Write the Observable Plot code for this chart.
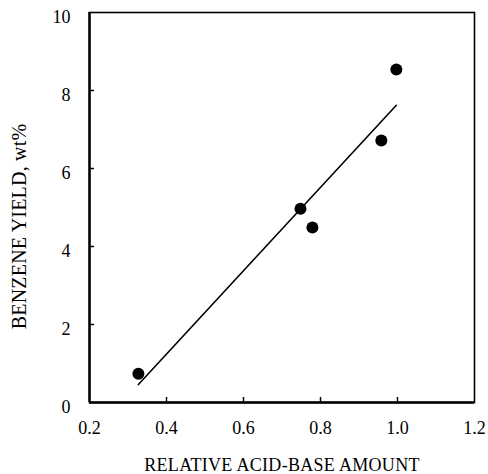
<!DOCTYPE html>
<html>
<head>
<meta charset="utf-8">
<script src="https://cdn.jsdelivr.net/npm/d3@7"></script>
<script src="https://cdn.jsdelivr.net/npm/@observablehq/plot@0.6"></script>
<style>
  html, body { margin: 0; padding: 0; background: #fff; }
</style>
</head>
<body>
<div id="chart"></div>
<script>
// Measured points
const acidBase = [0.327, 0.748, 0.779, 0.958, 0.997];
const benzeneYield = [0.74, 4.97, 4.49, 6.72, 8.54];
// Fitted line endpoints (as drawn)
const fitX = [0.327, 0.997];
const fitY = [0.46, 7.62];
const xTicks = [0.2, 0.4, 0.6, 0.8, 1.0, 1.2];
const yTicks = [0, 2, 4, 6, 8, 10];
const xTitle = "RELATIVE ACID-BASE AMOUNT";
const yTitle = "BENZENE YIELD, wt%";

const points = acidBase.map((x, i) => ({x, y: benzeneYield[i]}));
const fit = fitX.map((x, i) => ({x, y: fitY[i]}));

const font = "'Liberation Serif', 'Times New Roman', serif";

const chart = Plot.plot({
  width: 488,
  height: 474,
  marginLeft: 89,
  marginRight: 14,
  marginTop: 12,
  marginBottom: 72,
  style: {fontFamily: font, fontSize: "18px", color: "#000", background: "#fff"},
  x: {domain: [0.2, 1.2]},
  y: {domain: [0, 10]},
  marks: [
    Plot.axisX({ticks: xTicks, tickSize: 0, tickPadding: 19, tickFormat: d3.format(".1f"), label: null, fontSize: 18}),
    Plot.axisY({ticks: yTicks, tickSize: 0, tickPadding: 19, dy: 5, tickFormat: d3.format("d"), label: null, fontSize: 18}),
    Plot.axisX({ticks: xTicks.slice(1, -1), tickSize: -5, text: null, label: null, strokeWidth: 1.5}),
    Plot.axisY({ticks: yTicks.slice(1, -1), tickSize: -5, text: null, label: null, strokeWidth: 1.5}),
    Plot.frame({stroke: "#000", strokeWidth: 1.6}),
    Plot.ruleX([0.2], {stroke: "#000", strokeWidth: 2.4}),
    Plot.ruleY([0], {stroke: "#000", strokeWidth: 2.4}),
    Plot.line(fit, {x: "x", y: "y", stroke: "#000", strokeWidth: 1.6}),
    Plot.dot(points, {x: "x", y: "y", r: 6, fill: "#000", stroke: null}),
    Plot.text([xTitle], {frameAnchor: "bottom", textAnchor: "middle", dx: 0, dy: 68, lineAnchor: "bottom", fontSize: 18, fill: "#000"}),
    Plot.text([yTitle], {frameAnchor: "left", textAnchor: "middle", dx: -70, dy: 19, rotate: -90, fontSize: 20, fill: "#000"})
  ]
});

// Slightly widen the titles' letter spacing to match the reference's wide type
d3.select(chart).selectAll("text").each(function () {
  const t = this.textContent;
  if (t === xTitle) d3.select(this).style("letter-spacing", "0.3px");
  if (t === yTitle) d3.select(this).style("letter-spacing", "0.2px");
});

document.getElementById("chart").appendChild(chart);
</script>
</body>
</html>
